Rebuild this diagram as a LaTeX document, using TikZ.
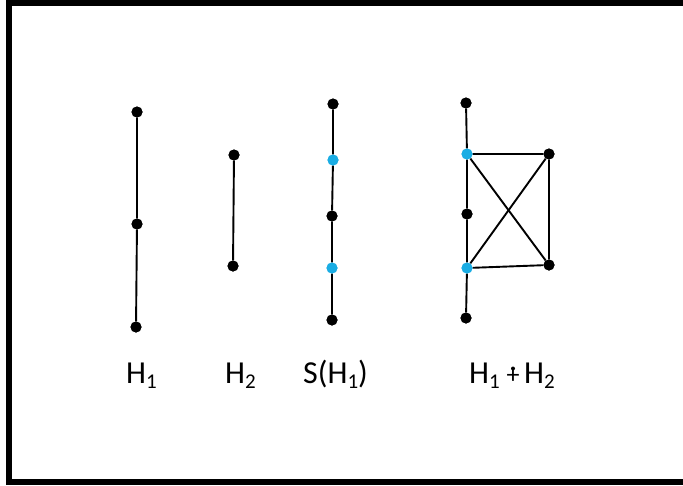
\documentclass[tikz,border=0pt]{standalone}
\usepackage{fontspec}
\setmainfont{Carlito}
\definecolor{cyanblue}{HTML}{1AADE4}
\tikzset{
  bdot/.style={circle,fill=black,inner sep=0pt,minimum size=11pt},
  cdot/.style={circle,fill=cyanblue,inner sep=0pt,minimum size=11pt},
  edge/.style={line width=1.9pt,black},
  lbl/.style={font=\fontsize{32}{36}\selectfont,inner sep=0pt,anchor=base west}
}
\newcommand{\sbs}[1]{\raisebox{-5pt}{\fontsize{21}{21}\selectfont #1}}
\begin{document}
\begin{tikzpicture}[x=1pt,y=-1pt]
\useasboundingbox (0,0) rectangle (683,485);
\fill[white] (0,0) rectangle (683,485);
% frame
\fill[black] (6,0) rectangle (683,6);
\fill[black] (6,0) rectangle (12,485);
\fill[black] (6,479) rectangle (683,485);
% H1
\node[bdot] (a1) at (137,112) {};
\node[bdot] (a2) at (137,224) {};
\node[bdot] (a3) at (136,327) {};
\draw[edge] (a1) -- (a2) -- (a3);
% H2
\node[bdot] (b1) at (234,155) {};
\node[bdot] (b2) at (233,266) {};
\draw[edge] (b1) -- (b2);
% S(H1)
\node[bdot] (s1) at (333,104) {};
\node[cdot] (s2) at (333,160) {};
\node[bdot] (s3) at (332,216) {};
\node[cdot] (s4) at (332,268) {};
\node[bdot] (s5) at (332,320) {};
\draw[edge] (s1) -- (s2) -- (s3) -- (s4) -- (s5);
% H1 dotplus H2
\node[bdot] (j1) at (466,103) {};
\node[cdot] (j2) at (467,154) {};
\node[bdot] (j3) at (467,214) {};
\node[cdot] (j4) at (467,268) {};
\node[bdot] (j5) at (466,318) {};
\node[bdot] (r1) at (549,154) {};
\node[bdot] (r2) at (549,265) {};
\draw[edge] (j1) -- (j2) -- (j3) -- (j4) -- (j5);
\draw[edge] (j2) -- (r1) -- (r2) -- (j4);
\draw[edge] (j2) -- (r2);
\draw[edge] (j4) -- (r1);
\foreach \n in {a1,a2,a3,b1,b2,s1,s3,s5,j1,j3,j5,r1,r2} \node[bdot] at (\n) {};
\foreach \n in {s2,s4,j2,j4} \node[cdot] at (\n) {};
% labels
\node[lbl] (l1) at (126,383) {H\sbs{1}};
\node[lbl] (l2) at (225,383) {H\sbs{2}};
\node[lbl] (l3) at (303,383) {S(H\sbs{1})};
\node[lbl] (l4a) at (469,383) {H\sbs{1}};
\node[lbl,anchor=base,font=\fontsize{26}{30}\selectfont] (l4b) at (513,383) {+};
\node[lbl] (l4c) at (524,383) {H\sbs{2}};
\fill[black] (513,368.5) circle (2pt);
\end{tikzpicture}
\end{document}
